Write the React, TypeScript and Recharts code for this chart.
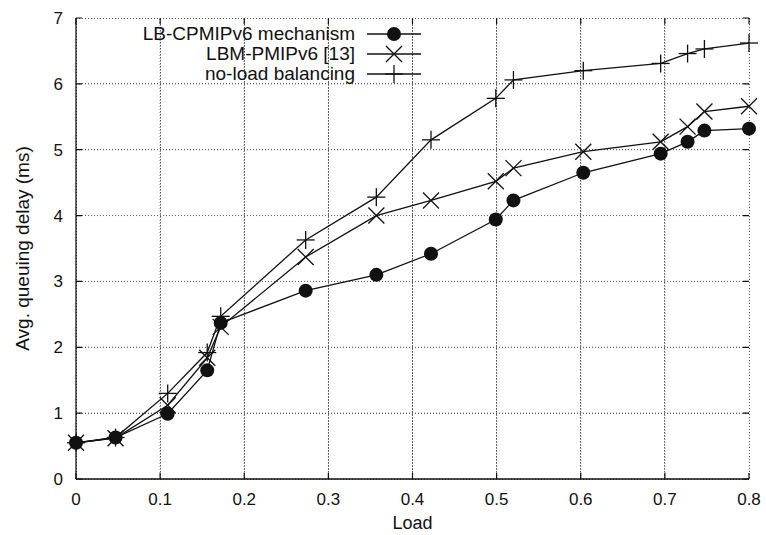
import React from 'react'
import {
  LineChart,
  Line,
  XAxis,
  YAxis,
  CartesianGrid,
} from 'recharts'

// load values on the x axis (shared by all three curves)
const loads = [0, 0.047, 0.109, 0.156, 0.172, 0.273, 0.357, 0.422, 0.499, 0.52, 0.603, 0.695, 0.727, 0.747, 0.8]
const lbCpmip = [0.55, 0.63, 0.99, 1.65, 2.37, 2.86, 3.1, 3.42, 3.94, 4.23, 4.65, 4.94, 5.12, 5.29, 5.32]
const lbmPmip = [0.55, 0.62, 1.12, 1.84, 2.31, 3.37, 4.0, 4.23, 4.52, 4.72, 4.97, 5.12, 5.35, 5.58, 5.66]
const noLoad = [0.55, 0.63, 1.3, 1.92, 2.47, 3.63, 4.28, 5.15, 5.78, 6.06, 6.2, 6.31, 6.46, 6.53, 6.62]

const xTicks = [0, 0.1, 0.2, 0.3, 0.4, 0.5, 0.6, 0.7, 0.8]
const yTicks = [0, 1, 2, 3, 4, 5, 6, 7]

const data = loads.map((l, i) => ({
  load: l,
  lbcp: lbCpmip[i],
  lbm: lbmPmip[i],
  none: noLoad[i],
}))

// dotted grid drawn as two-point series in data units
const gridV = xTicks.slice(1, -1).map(v => [{ load: v, g: 0 }, { load: v, g: 7 }])
const gridH = yTicks.slice(1, -1).map(v => [{ load: 0, g: v }, { load: 0.8, g: v }])

const FONT = '"Liberation Sans", Arial, Helvetica, sans-serif'
const INK = '#111'

const LEFT = 76
const RIGHT = 749
const TOP = 18
const BOTTOM = 479

function Circle({ cx, cy }: { cx: number; cy: number }) {
  return <circle cx={cx} cy={cy} r={7} fill={INK} />
}

function Cross({ cx, cy }: { cx: number; cy: number }) {
  const s = 8
  return (
    <g stroke={INK} strokeWidth={1.3}>
      <line x1={cx - s} y1={cy - s} x2={cx + s} y2={cy + s} />
      <line x1={cx - s} y1={cy + s} x2={cx + s} y2={cy - s} />
    </g>
  )
}

function Plus({ cx, cy }: { cx: number; cy: number }) {
  const s = 9
  return (
    <g stroke={INK} strokeWidth={1.3}>
      <line x1={cx - s} y1={cy} x2={cx + s} y2={cy} />
      <line x1={cx} y1={cy - s} x2={cx} y2={cy + s} />
    </g>
  )
}

const dotOf = (Shape: typeof Circle) => (p: any) => (
  <g key={`d-${p.index}`}>
    <Shape cx={p.cx} cy={p.cy} />
  </g>
)

const legendItems = [
  { name: 'LB-CPMIPv6 mechanism', Shape: Circle },
  { name: 'LBM-PMIPv6 [13]', Shape: Cross },
  { name: 'no-load balancing', Shape: Plus },
]

function LegendBox() {
  return (
    <div style={{ position: 'absolute', top: 24, left: 0, fontFamily: FONT, fontSize: 19, color: INK }}>
      {legendItems.map(({ name, Shape }) => (
        <div key={name} style={{ display: 'flex', alignItems: 'center', height: 20 }}>
          <span style={{ width: 355, textAlign: 'right', lineHeight: '20px', whiteSpace: 'nowrap' }}>{name}</span>
          <svg width={68} height={20} style={{ marginLeft: 12 }}>
            <line x1={0} y1={10} x2={54} y2={10} stroke={INK} strokeWidth={1.3} />
            <Shape cx={27} cy={10} />
          </svg>
        </div>
      ))}
    </div>
  )
}

function XTick({ x, y, payload }: any) {
  return (
    <g>
      <path d={`M${x},${BOTTOM}v-6M${x},${TOP}v6`} stroke={INK} strokeWidth={1.2} fill="none" />
      <text x={x} y={y + 26} textAnchor="middle" fontFamily={FONT} fontSize={17} fill={INK}>
        {String(payload.value)}
      </text>
    </g>
  )
}

function YTick({ x, y, payload }: any) {
  return (
    <g>
      <path d={`M${LEFT},${y}h6M${RIGHT},${y}h-6`} stroke={INK} strokeWidth={1.2} fill="none" />
      <text x={x - 13} y={y + 6} textAnchor="end" fontFamily={FONT} fontSize={17} fill={INK}>
        {String(payload.value)}
      </text>
    </g>
  )
}

const frame = { stroke: INK, strokeWidth: 1.3 }

export default function App() {
  return (
    <div style={{ position: 'absolute', left: 0, top: 0, width: 766, height: 535 }}>
      <LineChart width={766} height={535} data={data} margin={{ top: TOP, right: 766 - RIGHT, bottom: 0, left: 0 }}>
        <CartesianGrid stroke="#555" strokeWidth={1} strokeDasharray="1 2" shapeRendering="crispEdges" />
        <XAxis
          dataKey="load"
          type="number"
          domain={[0, 0.8]}
          ticks={xTicks}
          height={535 - BOTTOM}
          axisLine={frame}
          tickLine={false}
          tick={<XTick />}
          tickSize={0}
          tickMargin={0}
          label={{ value: 'Load', position: 'center', dy: 16, fontFamily: FONT, fontSize: 18, fill: INK }}
        />
        <XAxis
          xAxisId="top"
          orientation="top"
          dataKey="load"
          type="number"
          domain={[0, 0.8]}
          ticks={xTicks}
          height={0}
          axisLine={frame}
          tickLine={false}
          tick={false}
        />
        <YAxis
          type="number"
          domain={[0, 7]}
          ticks={yTicks}
          width={LEFT}
          axisLine={frame}
          tickLine={false}
          tick={<YTick />}
          tickSize={0}
          tickMargin={0}
          label={{
            value: 'Avg. queuing delay (ms)',
            angle: -90,
            position: 'center',
            dx: -16,
            fontFamily: FONT,
            fontSize: 19,
            fill: INK,
          }}
        />
        <YAxis
          yAxisId="right"
          orientation="right"
          type="number"
          domain={[0, 7]}
          ticks={yTicks}
          width={0}
          axisLine={frame}
          tickLine={false}
          tick={false}
        />
        {[...gridV, ...gridH].map((seg, i) => (
          <Line
            key={`grid-${i}`}
            data={seg}
            dataKey="g"
            stroke="#666"
            strokeWidth={1}
            strokeDasharray="1 2"
            dot={false}
            activeDot={false}
            isAnimationActive={false}
          />
        ))}
        <Line dataKey="none" stroke={INK} strokeWidth={1.3} dot={dotOf(Plus)} isAnimationActive={false} />
        <Line dataKey="lbm" stroke={INK} strokeWidth={1.3} dot={dotOf(Cross)} isAnimationActive={false} />
        <Line dataKey="lbcp" stroke={INK} strokeWidth={1.3} dot={dotOf(Circle)} isAnimationActive={false} />
      </LineChart>
      <LegendBox />
    </div>
  )
}
